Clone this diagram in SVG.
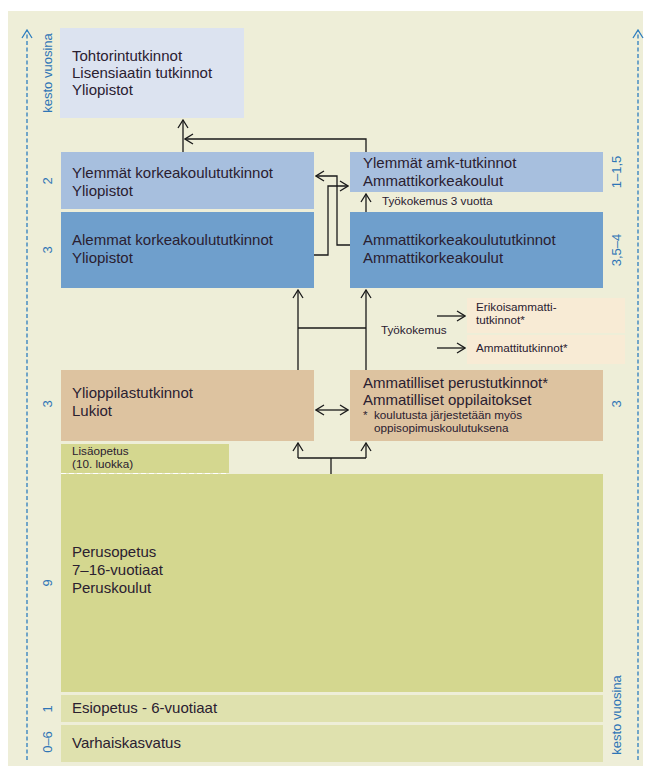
<svg xmlns="http://www.w3.org/2000/svg" width="650" height="769" viewBox="0 0 650 769">
<style>
.t{font-family:"Liberation Sans",Arial,sans-serif;font-size:15px;fill:#2a2030}
.s{font-family:"Liberation Sans",Arial,sans-serif;font-size:11.7px;fill:#2a2030}
.n{font-family:"Liberation Sans",Arial,sans-serif;font-size:13px;fill:#2e75b6}
.c{fill:none;stroke:#1a1a1a;stroke-width:1.3}
.d{fill:none;stroke:#2e7ebf;stroke-width:1.3;stroke-dasharray:4 2.5}
</style>
<defs>
<marker id="a" markerWidth="10" markerHeight="12" refX="9" refY="6" orient="auto-start-reverse" markerUnits="userSpaceOnUse">
<path d="M1,1 L9,6 L1,11" fill="none" stroke="#1a1a1a" stroke-width="1.3"/>
</marker>
<marker id="b" markerWidth="10" markerHeight="12" refX="9" refY="6" orient="auto" markerUnits="userSpaceOnUse">
<path d="M1,1 L9,6 L1,11" fill="none" stroke="#2e7ebf" stroke-width="1.3"/>
</marker>
</defs>
<rect x="0" y="0" width="650" height="769" fill="#ffffff"/>
<rect x="8" y="11" width="635" height="755" fill="#eeeed8"/>
<g id="axis-left">
<line class="d" x1="27" y1="760" x2="27" y2="30" marker-end="url(#b)"/>
<text class="n" transform="translate(52,73) rotate(-90)" text-anchor="middle" font-size="14.5">kesto vuosina</text>
<text class="n" transform="translate(52,181) rotate(-90)" text-anchor="middle">2</text>
<text class="n" transform="translate(52,250) rotate(-90)" text-anchor="middle">3</text>
<text class="n" transform="translate(52,404) rotate(-90)" text-anchor="middle">3</text>
<text class="n" transform="translate(52,583) rotate(-90)" text-anchor="middle">9</text>
<text class="n" transform="translate(52,709) rotate(-90)" text-anchor="middle">1</text>
<text class="n" transform="translate(52,742) rotate(-90)" text-anchor="middle">0–6</text>
</g>
<g id="axis-right">
<line class="d" x1="638" y1="760" x2="638" y2="30" marker-end="url(#b)"/>
<text class="n" transform="translate(621,715) rotate(-90)" text-anchor="middle" font-size="14.5">kesto vuosina</text>
<text class="n" transform="translate(621,172) rotate(-90)" text-anchor="middle">1–1,5</text>
<text class="n" transform="translate(621,250) rotate(-90)" text-anchor="middle">3,5–4</text>
<text class="n" transform="translate(621,404) rotate(-90)" text-anchor="middle">3</text>
</g>
<g id="tohtori">
<rect x="60" y="28" width="184" height="90" fill="#dce3f0"/>
<text class="t" x="72" y="61">Tohtorintutkinnot</text>
<text class="t" x="72" y="78">Lisensiaatin tutkinnot</text>
<text class="t" x="72" y="95">Yliopistot</text>
</g>
<g id="ylemmat-kk">
<rect x="61" y="152" width="253" height="57" fill="#a7bfde"/>
<text class="t" x="72" y="178">Ylemmät korkeakoulututkinnot</text>
<text class="t" x="72" y="196">Yliopistot</text>
</g>
<g id="alemmat-kk">
<rect x="61" y="212" width="253" height="76" fill="#6f9fcc"/>
<text class="t" x="72" y="245">Alemmat korkeakoulututkinnot</text>
<text class="t" x="72" y="263">Yliopistot</text>
</g>
<g id="ylemmat-amk">
<rect x="350" y="152" width="253" height="40" fill="#a7bfde"/>
<text class="t" x="363" y="168">Ylemmät amk-tutkinnot</text>
<text class="t" x="363" y="186">Ammattikorkeakoulut</text>
</g>
<g id="tyokokemus3">
<text class="s" x="382" y="205">Työkokemus 3 vuotta</text>
</g>
<g id="amk">
<rect x="350" y="212" width="253" height="76" fill="#6f9fcc"/>
<text class="t" x="363" y="245">Ammattikorkeakoulututkinnot</text>
<text class="t" x="363" y="263">Ammattikorkeakoulut</text>
</g>
<g id="erikois">
<rect x="467" y="298" width="158" height="35" fill="#f8ebd5"/>
<text class="s" x="476" y="311">Erikoisammatti-</text>
<text class="s" x="476" y="324">tutkinnot*</text>
</g>
<g id="ammattitutkinnot">
<rect x="467" y="335" width="158" height="29" fill="#f8ebd5"/>
<text class="s" x="476" y="352">Ammattitutkinnot*</text>
</g>
<g id="tyokokemus">
<text class="s" x="381" y="334">Työkokemus</text>
</g>
<g id="ylioppilas">
<rect x="61" y="370" width="253" height="71" fill="#ddc3a0"/>
<text class="t" x="72" y="398">Ylioppilastutkinnot</text>
<text class="t" x="72" y="416">Lukiot</text>
</g>
<g id="ammatilliset">
<rect x="350" y="370" width="253" height="71" fill="#ddc3a0"/>
<text class="t" x="363" y="388">Ammatilliset perustutkinnot*</text>
<text class="t" x="363" y="405">Ammatilliset oppilaitokset</text>
<text class="s" x="363" y="419">*</text>
<text class="s" x="374" y="419">koulutusta järjestetään myös</text>
<text class="s" x="374" y="432">oppisopimuskoulutuksena</text>
</g>
<g id="lisaopetus">
<rect x="61" y="444" width="168" height="29" fill="#d4d78f"/>
<text class="s" x="72" y="455">Lisäopetus</text>
<text class="s" x="72" y="468">(10. luokka)</text>
</g>
<g id="perusopetus">
<rect x="61" y="474" width="542" height="218" fill="#d4d78f"/>
<line x1="61" y1="473.5" x2="229" y2="473.5" stroke="#ffffff" stroke-width="1.2" stroke-dasharray="5 3"/>
<text class="t" x="72" y="557">Perusopetus</text>
<text class="t" x="72" y="575">7–16-vuotiaat</text>
<text class="t" x="72" y="593">Peruskoulut</text>
</g>
<g id="esiopetus">
<rect x="61" y="695" width="542" height="27" fill="#dfe1ae"/>
<text class="t" x="72" y="713">Esiopetus - 6-vuotiaat</text>
</g>
<g id="varhais">
<rect x="61" y="725" width="542" height="37" fill="#dfe1ae"/>
<text class="t" x="72" y="748">Varhaiskasvatus</text>
</g>
<g id="connectors">
<path class="c" d="M183,152 V120" marker-end="url(#a)"/>
<path class="c" d="M366,152 V139 H185" marker-end="url(#a)"/>
<path class="c" d="M350,245 H337 V176 H316" marker-end="url(#a)"/>
<path class="c" d="M314,255 H328 V186 H348" marker-end="url(#a)"/>
<path class="c" d="M366,212 V194" marker-end="url(#a)"/>
<path class="c" d="M298,370 V290" marker-end="url(#a)"/>
<path class="c" d="M366,370 V290" marker-end="url(#a)"/>
<path class="c" d="M298,328 H366"/>
<path class="c" d="M316,410 H348" marker-start="url(#a)" marker-end="url(#a)"/>
<path class="c" d="M331,474 V458"/>
<path class="c" d="M298,458 H366"/>
<path class="c" d="M298,458 V443" marker-end="url(#a)"/>
<path class="c" d="M366,458 V443" marker-end="url(#a)"/>
<path class="c" d="M437,316 H465" marker-end="url(#a)"/>
<path class="c" d="M437,348 H465" marker-end="url(#a)"/>
</g>
</svg>
